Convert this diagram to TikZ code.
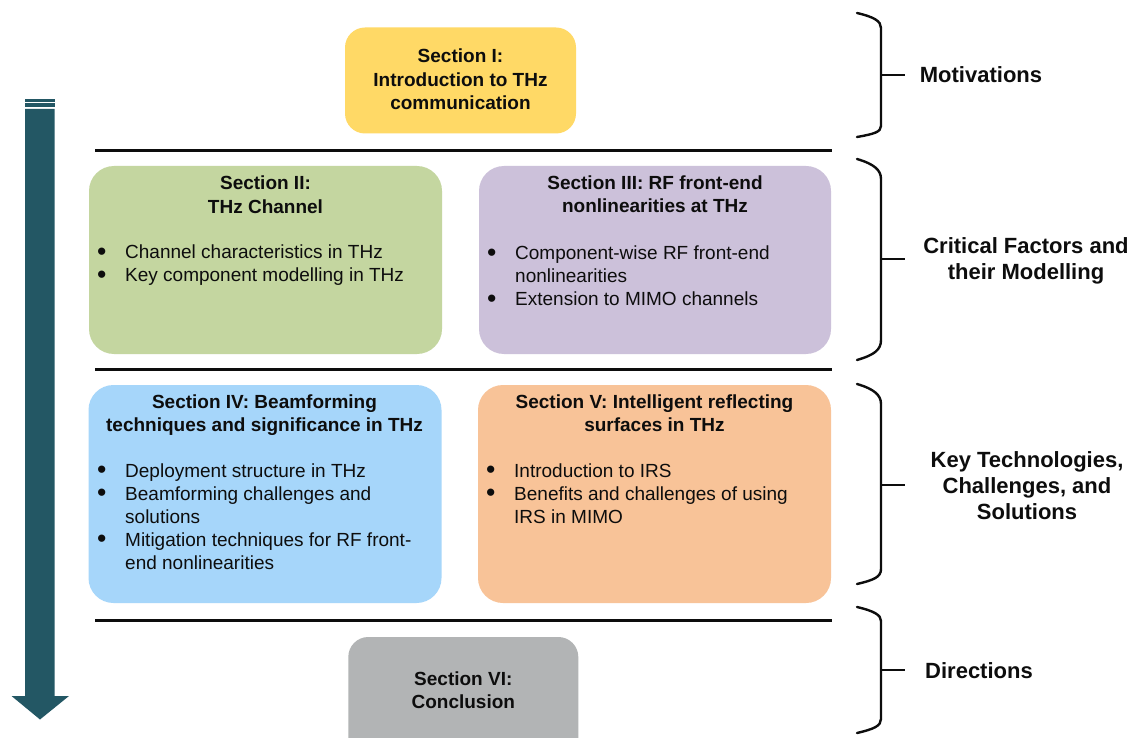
\documentclass[tikz,border=0pt]{standalone}
\usepackage{fontspec}
\setmainfont{Liberation Sans}
\definecolor{cI}{RGB}{255,217,102}
\definecolor{cII}{RGB}{196,214,160}
\definecolor{cIII}{RGB}{204,193,218}
\definecolor{cIV}{RGB}{166,214,250}
\definecolor{cV}{RGB}{248,195,152}
\definecolor{cVI}{RGB}{178,180,181}
\definecolor{arrowc}{RGB}{35,87,100}
\definecolor{txt}{RGB}{13,13,13}
\newcommand{\bdot}{\raisebox{-1.6pt}{\scalebox{1.4}{\textbullet}}}
\begin{document}
\begin{tikzpicture}[x=1pt,y=-1pt,
  secbox/.style={rounded corners=25pt, inner sep=0pt, draw=none},
  title/.style={font=\fontsize{19}{23.3}\selectfont\bfseries, text=txt, inner sep=0pt, anchor=base},
  blist/.style={font=\fontsize{19}{23}\selectfont, text=txt, inner sep=0pt, anchor=base west},
  lab/.style={font=\fontsize{22}{26}\selectfont\bfseries, text=txt, inner sep=0pt, anchor=base},
  rule/.style={line width=3pt, txt},
  bracestyle/.style={line width=2.4pt, txt, line cap=round}]
\clip (0,0) rectangle (1133,738);
\fill[white] (0,0) rectangle (1133,738);

% progress arrow
\fill[arrowc] (25,99.5) rectangle (54.5,102);
\fill[arrowc] (25,103.5) rectangle (54.5,107.5);
\fill[arrowc] (25,109) -- (54.5,109) -- (54.5,696) -- (69,696) -- (40,719.5) -- (11.5,696) -- (25,696) -- cycle;

% section boxes
\node[secbox, rounded corners=20pt, fill=cI, minimum width=231pt, minimum height=106pt] (s1) at (460.5,80.5) {};
\node[secbox, fill=cII, minimum width=353pt, minimum height=188pt] (s2) at (265.5,260) {};
\node[secbox, fill=cIII, minimum width=352pt, minimum height=188pt] (s3) at (655,260) {};
\node[secbox, fill=cIV, minimum width=353pt, minimum height=218pt] (s4) at (265,494) {};
\node[secbox, fill=cV, minimum width=353pt, minimum height=218pt] (s5) at (654.5,494) {};
\node[secbox, rounded corners=20pt, fill=cVI, minimum width=230pt, minimum height=130pt] (s6) at (463.3,702) {};

% separators
\draw[rule] (95,151) -- (832,151);
\draw[rule] (95,369) -- (832,369);
\draw[rule] (95,620) -- (832,620);

% titles
\node[title] (t1) at (460.5,63) {\begin{tabular}[t]{@{}c@{}}Section I:\\Introduction to THz\\communication\end{tabular}};
\node[title] (t2) at (265.5,190) {\begin{tabular}[t]{@{}c@{}}Section II:\\THz Channel\end{tabular}};
\node[title] (t3) at (655,189.5) {\begin{tabular}[t]{@{}c@{}}Section III: RF front-end\\nonlinearities at THz\end{tabular}};
\node[title] (t4) at (264.5,408) {\begin{tabular}[t]{@{}c@{}}Section IV: Beamforming\\techniques and significance in THz\end{tabular}};
\node[title] (t5) at (654.5,408) {\begin{tabular}[t]{@{}c@{}}Section V: Intelligent reflecting\\surfaces in THz\end{tabular}};
\node[title] (t6) at (463.3,685.5) {\begin{tabular}[t]{@{}c@{}}Section VI:\\Conclusion\end{tabular}};

% bullet lists
\node[blist] (b2) at (97,259) {\begin{tabular}[t]{@{}p{28pt}@{}l@{}}\bdot & Channel characteristics in THz\\ \bdot & Key component modelling in THz\end{tabular}};
\node[blist] (b3) at (487,259.5) {\begin{tabular}[t]{@{}p{28pt}@{}l@{}}\bdot & Component-wise RF front-end\\ & nonlinearities\\ \bdot & Extension to MIMO channels\end{tabular}};
\node[blist] (b4) at (97,477) {\begin{tabular}[t]{@{}p{28pt}@{}l@{}}\bdot & Deployment structure in THz\\ \bdot & Beamforming challenges and\\ & solutions\\ \bdot & Mitigation techniques for RF front-\\ & end nonlinearities\end{tabular}};
\node[blist] (b5) at (486,477) {\begin{tabular}[t]{@{}p{28pt}@{}l@{}}\bdot & Introduction to IRS\\ \bdot & Benefits and challenges of using\\ & IRS in MIMO\end{tabular}};

% braces
\draw[bracestyle] (857,13) .. controls (874,17) and (881,21) .. (881,28) -- (881,126) .. controls (881,132) and (874,134) .. (857,137);
\draw[bracestyle] (857,159) .. controls (874,164) and (881,170) .. (881,179) -- (881,340) .. controls (881,350) and (874,355) .. (857,360);
\draw[bracestyle] (857,384) .. controls (874,389) and (881,395) .. (881,404) -- (881,569) .. controls (881,577) and (874,580) .. (857,584);
\draw[bracestyle] (857,607) .. controls (874,611) and (881,615) .. (881,621) -- (881,719) .. controls (881,726) and (874,729) .. (857,733);
\coordinate (m1) at (881,75);
\coordinate (m2) at (881,259);
\coordinate (m3) at (881,485);
\coordinate (m4) at (881,670);
\draw[bracestyle, line cap=butt] (m1) -- ++(24,0);
\draw[bracestyle, line cap=butt] (m2) -- ++(24,0);
\draw[bracestyle, line cap=butt] (m3) -- ++(24,0);
\draw[bracestyle, line cap=butt] (m4) -- ++(24,0);

% labels
\node[lab] (l1) at (981,83) {Motivations};
\node[lab] (l2) at (1026,254) {\begin{tabular}[t]{@{}c@{}}Critical Factors and\\their Modelling\end{tabular}};
\node[lab] (l3) at (1027,467) {\begin{tabular}[t]{@{}c@{}}Key Technologies,\\Challenges, and\\Solutions\end{tabular}};
\node[lab] (l4) at (979,678) {Directions};
\end{tikzpicture}
\end{document}
